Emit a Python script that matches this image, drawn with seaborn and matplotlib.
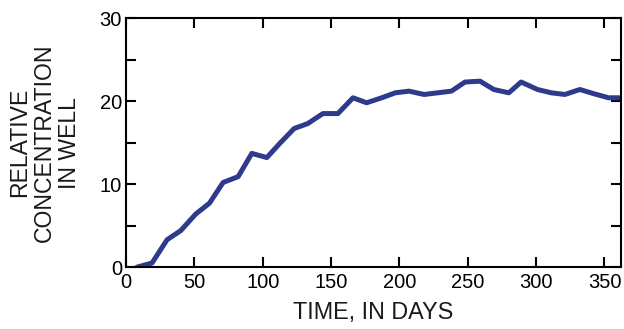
import numpy as np
import pandas as pd
import matplotlib
matplotlib.use('Agg')
import matplotlib.pyplot as plt
import seaborn as sns
from matplotlib.ticker import MultipleLocator

# values
days = [8, 19, 30, 40, 51, 61, 71, 82, 92, 103, 113, 123, 133, 144, 155,
        166, 176, 187, 197, 207, 218, 228, 238, 248, 259, 269, 280, 289,
        301, 311, 321, 332, 342, 353, 363]
conc = [0.0, 0.5, 3.3, 4.4, 6.4, 7.7, 10.2, 10.9, 13.7, 13.2, 15.0, 16.7,
        17.3, 18.5, 18.5, 20.4, 19.8, 20.4, 21.0, 21.2, 20.8, 21.0, 21.2,
        22.3, 22.4, 21.4, 21.0, 22.3, 21.4, 21.0, 20.8, 21.4, 20.9, 20.4, 20.4]

df = pd.DataFrame({'day': days, 'conc': conc})

sns.set_style('ticks')
plt.rcParams['font.family'] = ['Liberation Sans', 'DejaVu Sans']

fig = plt.figure(figsize=(6.24, 3.29), dpi=100)
ax = fig.add_axes([0.202, 0.188, 0.793, 0.757])

sns.lineplot(data=df, x='day', y='conc', ax=ax, color='#2e3a8c', linewidth=3.6)

ax.set_xlim(0, 362)
ax.set_ylim(0, 30)
ax.xaxis.set_major_locator(MultipleLocator(50))
ax.yaxis.set_major_locator(MultipleLocator(10))
ax.yaxis.set_minor_locator(MultipleLocator(5))

for s in ax.spines.values():
    s.set_visible(True)
    s.set_linewidth(1.5)
    s.set_color('black')

ax.tick_params(which='both', direction='in', top=True, right=True,
               width=1.5, labelsize=14.5, colors='black')
ax.tick_params(axis='y', pad=3)
ax.tick_params(axis='x', pad=4)
ax.tick_params(which='major', length=7)
ax.tick_params(which='minor', length=7)

ax.set_xlabel('TIME, IN DAYS', fontsize=16.8, labelpad=7, color='#1a1a1a')
ax.set_ylabel('RELATIVE\nCONCENTRATION\nIN WELL', fontsize=16.6, linespacing=1.12,
              labelpad=13, color='#1a1a1a')

fig.savefig('out.png', dpi=100)
